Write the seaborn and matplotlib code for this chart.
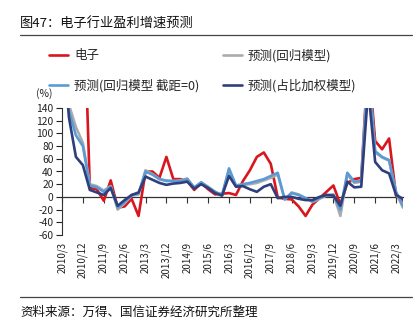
import numpy as np
import pandas as pd
import matplotlib
matplotlib.use("Agg")
import matplotlib.pyplot as plt
from matplotlib.lines import Line2D
import seaborn as sns

# ---------------- data (quarterly, 2010/3 .. 2022/6) ----------------
quarters = [f"{y}/{m}" for y in range(2010, 2023) for m in (3, 6, 9, 12)][:50]
tick_labels = ["2010/3", "2010/12", "2011/9", "2012/6", "2013/3", "2013/12", "2014/9",
               "2015/6", "2016/3", "2016/12", "2017/9", "2018/6", "2019/3", "2019/12",
               "2020/9", "2021/6", "2022/3"]

electronics = [np.nan, np.nan, np.nan, 360, 14, 12, -6, 26, -17, -15,
               -3, -30, 40, 40, 30, 63, 28, 28, 25, 11,
               22, 12, 4, 5, 6, 3, 25, 42, 63, 70,
               52, -1, -3, -4, -15, -30, -12, -2, 8, 18,
               -12, 22, 28, 30, 220, 88, 75, 92, 2, -6]
pred_reg = [270, 145, 110, 85, 20, 17, 10, 17, -20, -10,
            2, 4, 42, 36, 28, 26, 25, 26, 29, 14,
            23, 16, 8, 2, 42, 17, 19, 20, 22, 26,
            30, 35, -4, 7, 4, -2, -8, -3, 2, 4,
            -30, 35, 22, 24, 210, 70, 62, 57, 6, -17]
pred_reg0 = [260, 135, 97, 80, 18, 15, 8, 16, -17, -8,
             3, 5, 40, 35, 28, 25, 25, 25, 28, 15,
             23, 15, 8, 3, 45, 18, 20, 22, 25, 28,
             33, 38, -4, 6, 3, -2, -7, -2, 3, 3,
             -20, 38, 24, 25, 200, 72, 63, 58, 8, -14]
pred_weight = [260, 125, 63, 50, 11, 7, 3, 14, -14, -5,
               3, 7, 32, 27, 22, 19, 21, 22, 24, 13,
               20, 14, 6, 2, 33, 16, 17, 12, 8, 16,
               20, -2, 0, 0, -3, -5, -5, 0, 3, 2,
               -14, 24, 15, 16, 170, 55, 42, 37, 3, -3]

names = ["电子", "预测(回归模型)", "预测(回归模型 截距=0)", "预测(占比加权模型)"]
colors = ["#D9161E", "#ABABAB", "#5B9BD5", "#2E3F7C"]

frames = []
for n, vals in zip(names, [electronics, pred_reg, pred_reg0, pred_weight]):
    frames.append(pd.DataFrame({"idx": np.arange(len(quarters)), "quarter": quarters,
                                "value": vals, "series": n}))
df = pd.concat(frames, ignore_index=True)

# ---------------- figure ----------------
sns.set_theme(style="white")
plt.rcParams["font.family"] = ["Noto Sans CJK SC", "DejaVu Sans"]
plt.rcParams["axes.unicode_minus"] = False

fig = plt.figure(figsize=(4.2, 3.24), dpi=100)
ax = fig.add_axes([62 / 420, 1 - 235 / 324, (403 - 62) / 420, 127 / 324])

sns.lineplot(data=df, x="idx", y="value", hue="series", hue_order=names,
             palette=dict(zip(names, colors)), linewidth=1.9, errorbar=None,
             ax=ax, legend=True)

leg = ax.get_legend()
handles = list(leg.legend_handles)
labels = [t.get_text() for t in leg.get_texts()]
leg.remove()
order = [0, 2, 1, 3]
fig.legend([handles[i] for i in order], [labels[i] for i in order], ncol=2,
           loc="upper left", bbox_to_anchor=(49 / 420, 1 - 49 / 324),
           frameon=False, fontsize=9, handlelength=1.5, handletextpad=0.5,
           columnspacing=1.9, labelspacing=1.3, borderaxespad=0, borderpad=0)

ax.set_xlim(0, len(quarters) - 1)
ax.set_ylim(-60, 140)
ax.set_yticks(np.arange(-60, 141, 20))
ax.set_xlabel("")
ax.set_ylabel("")
tick_pos = [quarters.index(t) for t in tick_labels]
ax.set_xticks(tick_pos)
ax.set_xticklabels(tick_labels, rotation=90, fontsize=7, color="#222222")
ax.tick_params(axis="x", length=0, pad=5)
ax.tick_params(axis="y", length=4, width=0.8, direction="out", pad=2,
               labelsize=7.4, colors="#222222", left=True)
for s in ["top", "right", "bottom"]:
    ax.spines[s].set_visible(False)
ax.spines["left"].set_color("#333333")
ax.spines["left"].set_linewidth(0.8)

# zero axis with tick marks
sec = ax.secondary_xaxis(0.3)
sec.set_xticks(tick_pos)
sec.tick_params(axis="x", labelbottom=False, length=4, width=0.8, direction="out",
                color="#333333", bottom=True)
sec.spines["bottom"].set_color("#333333")
sec.spines["bottom"].set_linewidth(0.9)

fig.text(36 / 420, 1 - 94 / 324, "(%)", fontsize=7.5, va="center", ha="left", color="#222222")

# title, rules, source
fig.text(20 / 420, 1 - 24 / 324, "图47：电子行业盈利增速预测", fontsize=9.5,
         va="center", ha="left", color="#111111")
fig.add_artist(Line2D([20 / 420, 412 / 420], [1 - 35 / 324] * 2, color="#444444", lw=0.9))
fig.add_artist(Line2D([20 / 420, 412 / 420], [1 - 297 / 324] * 2, color="#444444", lw=0.9))
fig.text(20 / 420, 1 - 312 / 324, "资料来源：万得、国信证券经济研究所整理", fontsize=9,
         va="center", ha="left", color="#111111")

fig.savefig("out.png", dpi=100)
